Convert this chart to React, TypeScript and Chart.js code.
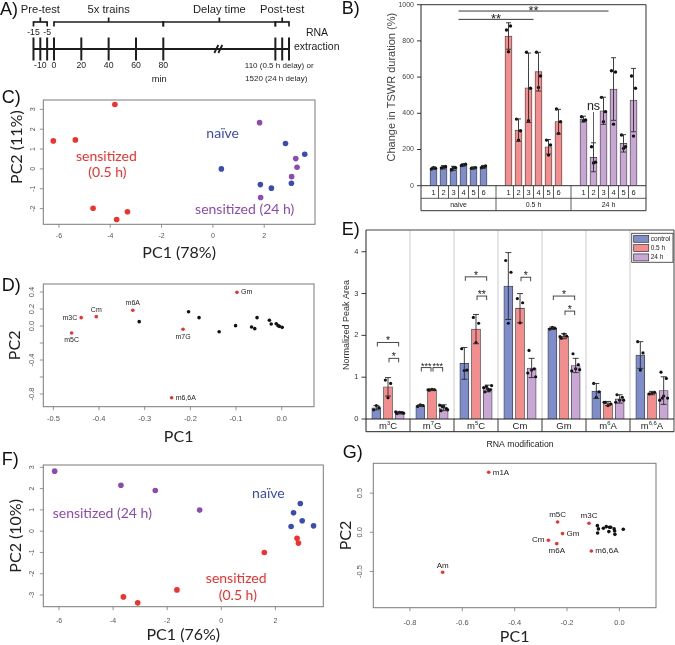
import React, { useEffect, useRef } from "react";
import { Chart, registerables } from "chart.js";

Chart.register(...registerables);

/* ======================= DATA ======================= */
// A) protocol timeline (minutes)
const PRE_TEST_TIMES = [-15, -10, -5];
const TRAIN_TIMES = [0, 20, 40, 60, 80];
const POST_TEST_TIMES = [110, 115, 120];
const LABELS_ABOVE = [-15, -5];
const LABELS_BELOW = [-10, 0, 20, 40, 60, 80];
const PHASE_NAMES = ["Pre-test", "5x trains", "Delay time", "Post-test"];
const PHASE_START = [-15, 0, 80, 110];
const PHASE_END = [-5, 80, 110, 120];
const POST_NOTE = ["110 (0.5 h delay) or", "1520 (24 h delay)"];
const TIME_UNIT = "min";
const END_NOTE = ["RNA", "extraction"];
const BREAK_AFTER = 80;
const BREAK_SHIFT = 52;

// B) change in TSWR duration (%)
const B_GROUPS = ["naive", "0.5 h", "24 h"];
const B_ANIMALS = ["1", "2", "3", "4", "5", "6"];
const B_NAIVE = [96, 102, 96, 115, 98, 104];
const B_HALF = [827, 307, 541, 630, 215, 354];
const B_DAY = [368, 157, 414, 534, 234, 473];
const B_NAIVE_SD = [6, 9, 11, 6, 4, 8];
const B_HALF_SD = [73, 62, 192, 107, 40, 68];
const B_DAY_SD = [16, 80, 75, 173, 48, 175];
const B_NAIVE_PTS = [[92, 96, 100], [98, 106, 102], [87, 100, 101], [112, 119, 114], [96, 100, 98], [99, 109, 104]];
const B_HALF_PTS = [[860, 882, 740], [368, 304, 252], [737, 538, 359], [737, 606, 543], [252, 225, 169], [424, 354, 289]];
const B_DAY_PTS = [[381, 363, 359], [215, 130, 126], [488, 409, 354], [635, 628, 340], [280, 215, 206], [606, 538, 274]];
const B_Y_TICKS = [0, 200, 400, 600, 800, 1000];
const B_Y_TITLE = "Change in TSWR duration (%)";
const B_SIG_FROM = [0, 0];
const B_SIG_TO = [1, 2];
const B_SIG_Y = [919, 965];
const B_SIG_TEXT = ["**", "**"];
const B_NS_TEXT = "ns";
const B_NS_GROUP = 2;
const B_NS_ANIMAL = 1;
const B_NS_Y = 435;

// C) PCA of samples (78% / 11%)
const C_HALF_PC1 = [-3.82, -6.22, -5.36, -4.67, -3.33, -3.75];
const C_HALF_PC2 = [3.24, 1.41, 1.46, -1.98, -2.16, -2.55];
const C_NAIVE_PC1 = [0.33, 2.83, 3.58, 1.85, 2.28, 3.06];
const C_NAIVE_PC2 = [0.0, 1.28, 0.74, -0.79, -0.97, -0.72];
const C_DAY_PC1 = [1.82, 3.23, 3.28, 3.07, 1.86];
const C_DAY_PC2 = [2.33, 0.52, 0.08, -0.39, -1.44];
const C_TAG_TEXT = ["naïve", "sensitized", "(0.5 h)", "sensitized (24 h)"];
const C_TAG_PC1 = [0.38, -4.15, -4.11, 1.24];
const C_TAG_PC2 = [1.76, 0.65, -0.2, -2.06];
const C_TAG_SET = [1, 0, 0, 2];
const C_X_TICKS = [-6, -4, -2, 0, 2];
const C_Y_TICKS = [-2, -1, 0, 1, 2, 3];

// D) PCA loadings
const D_MOD_NAMES = ["m3C", "Cm", "m6A", "Gm", "m5C", "m7G", "m6,6A"];
const D_MOD_PC1 = [-0.439, -0.406, -0.326, -0.098, -0.46, -0.216, -0.241];
const D_MOD_PC2 = [0.098, 0.11, 0.185, 0.396, -0.082, -0.039, -0.843];
const D_MOD_SIDE = ["left", "above", "above", "right", "below", "below", "right"];
const D_OTHER_PC1 = [-0.312, -0.204, -0.181, -0.137, -0.101, -0.066, -0.059, -0.054, -0.027, -0.023, -0.012, -0.008, -0.005, 0.001];
const D_OTHER_PC2 = [0.051, 0.168, 0.098, -0.067, 0.004, -0.012, -0.031, 0.098, 0.067, 0.024, 0.027, 0.004, -0.004, -0.016];
const D_X_TICKS = [-0.5, -0.4, -0.3, -0.2, -0.1, 0.0];
const D_Y_TICKS = [-0.8, -0.6, -0.4, -0.2, 0.0, 0.2, 0.4];
const D_Y_LABELLED = [-0.8, -0.4, 0.0, 0.2, 0.4];

// E) normalized peak area
const E_MOD_BASE = ["m", "m", "m", "Cm", "Gm", "m", "m"];
const E_MOD_SUP = ["3", "7", "5", "", "", "6", "6,6"];
const E_MOD_TAIL = ["C", "G", "C", "", "", "A", "A"];
const E_SERIES = ["control", "0.5 h", "24 h"];
const E_CONTROL = [0.27, 0.32, 1.33, 3.18, 2.17, 0.67, 1.53];
const E_HALF = [0.77, 0.7, 2.15, 2.65, 1.98, 0.37, 0.62];
const E_DAY = [0.15, 0.27, 0.73, 1.22, 1.28, 0.48, 0.68];
const E_CONTROL_SD = [0.05, 0.02, 0.38, 0.8, 0.03, 0.18, 0.32];
const E_HALF_SD = [0.22, 0.02, 0.35, 0.35, 0.06, 0.05, 0.04];
const E_DAY_SD = [0.03, 0.07, 0.08, 0.23, 0.17, 0.1, 0.33];
const E_CONTROL_PTS = [[0.22, 0.27, 0.32], [0.3, 0.32, 0.34], [1.68, 1.17, 1.16], [3.79, 3.51, 2.29], [2.15, 2.17, 2.19], [0.85, 0.65, 0.52], [1.85, 1.58, 1.17]];
const E_HALF_PTS = [[0.93, 0.85, 0.51], [0.69, 0.7, 0.71, 0.7], [2.43, 2.29, 1.83], [2.88, 2.78, 2.3], [1.93, 1.98, 2.03, 1.97], [0.4, 0.36, 0.32, 0.4], [0.6, 0.64, 0.62]];
const E_DAY_PTS = [[0.13, 0.15, 0.16, 0.17, 0.14], [0.2, 0.25, 0.3, 0.33, 0.22, 0.3], [0.65, 0.7, 0.72, 0.75, 0.8, 0.78, 0.68], [1.64, 1.2, 1.17, 1.1, 1.01], [1.56, 1.3, 1.2, 1.15, 1.18], [0.58, 0.52, 0.45, 0.4, 0.45], [1.12, 0.97, 0.55, 0.45, 0.5, 0.5]];
const E_Y_TICKS = [0, 1, 2, 3, 4];
const E_Y_MAX = 4.52;
const E_Y_TITLE = "Normalized Peak Area";
const E_X_TITLE = "RNA modification";
const E_SIG_GROUP = [0, 0, 1, 1, 2, 2, 3, 4, 4];
const E_SIG_FROM = [0, 1, 0, 1, 0, 1, 1, 0, 1];
const E_SIG_TO = [2, 2, 1, 2, 2, 2, 2, 2, 2];
const E_SIG_Y = [1.83, 1.45, 1.23, 1.23, 3.4, 2.94, 3.39, 2.94, 2.58];
const E_SIG_TEXT = ["*", "*", "***", "***", "*", "**", "*", "*", "*"];

// F) PCA of samples (76% / 10%)
const F_HALF_PC1 = [2.8, 2.85, 1.59, -1.64, -3.62, -3.09];
const F_HALF_PC2 = [-0.33, -0.56, -1.0, -2.76, -3.09, -3.37];
const F_NAIVE_PC1 = [2.92, 2.67, 2.99, 2.58, 3.41];
const F_NAIVE_PC2 = [1.3, 0.86, 0.49, 0.22, 0.25];
const F_DAY_PC1 = [-6.16, -3.71, -2.44, -0.8];
const F_DAY_PC2 = [2.82, 2.16, 1.91, 0.99];
const F_TAG_TEXT = ["naïve", "sensitized (24 h)", "sensitized", "(0.5 h)"];
const F_TAG_PC1 = [1.74, -4.4, 0.55, 0.61];
const F_TAG_PC2 = [1.75, 0.85, -2.22, -3.04];
const F_TAG_SET = [1, 2, 0, 0];
const F_X_TICKS = [-6, -4, -2, 0, 2];
const F_Y_TICKS = [-3, -2, -1, 0, 1, 2, 3];

// G) PCA loadings
const G_MOD_NAMES = ["m1A", "m5C", "m3C", "Gm", "Cm", "m6A", "m6,6A", "Am"];
const G_MOD_PC1 = [-0.499, -0.236, -0.116, -0.217, -0.271, -0.239, -0.107, -0.675];
const G_MOD_PC2 = [0.766, 0.132, 0.115, -0.017, -0.102, -0.145, -0.238, -0.511];
const G_MOD_SIDE = ["right", "above", "above", "right", "left", "below", "right", "above"];
const G_OTHER_PC1 = [-0.084, -0.08, -0.083, -0.061, -0.05, -0.038, -0.04, -0.033, -0.02, -0.017, -0.018, 0.015];
const G_OTHER_PC2 = [0.085, 0.043, -0.009, 0.051, 0.072, 0.064, 0.009, 0.064, 0.043, -0.026, 0.017, 0.038];
const G_X_TICKS = [-0.8, -0.6, -0.4, -0.2, 0.0];
const G_Y_TICKS = [-0.5, 0.0, 0.5];

/* ======================= STYLE ======================= */
const SANS = '"Liberation Sans", Arial, Helvetica, sans-serif';
const HUMAN = 'Lato, "Open Sans", sans-serif';
const RED = "#f0312e";
const BLUE = "#3a4cb2";
const PURPLE = "#8b4bb0";
const BAR_BLUE = "#7f8dca";
const BAR_RED = "#f48e8e";
const BAR_PURPLE = "#c9a7d4";
const INK = "#1d1d1d";

/* ======================= HELPERS ======================= */
function txt(ctx: any, s: string, x: number, y: number, size: number, color: string, o: any = {}) {
  ctx.save();
  ctx.font = `${o.weight || ""} ${size}px ${o.family || SANS}`.trim();
  ctx.fillStyle = color;
  ctx.textAlign = o.align || "center";
  ctx.textBaseline = o.baseline || "middle";
  ctx.translate(x, y);
  if (o.rot) ctx.rotate(o.rot);
  ctx.fillText(s, 0, 0);
  ctx.restore();
}
function seg(ctx: any, x1: number, y1: number, x2: number, y2: number, color: string, w: number) {
  ctx.save();
  ctx.strokeStyle = color;
  ctx.lineWidth = w;
  ctx.beginPath();
  ctx.moveTo(x1, y1);
  ctx.lineTo(x2, y2);
  ctx.stroke();
  ctx.restore();
}
const zip = (a: number[], b: number[]) => a.map((v, i) => ({ x: v, y: b[i] }));
const baseOptions = (padding: any) => ({
  responsive: false,
  animation: false as const,
  events: [] as any[],
  layout: { padding, autoPadding: false },
  plugins: { legend: { display: false }, tooltip: { enabled: false } },
});

// plain left value axis (for the bar panels)
function leftAxis(chart: any, ticks: number[], o: any) {
  const { ctx, chartArea: a } = chart;
  const sy = chart.scales.y;
  seg(ctx, a.left, a.top, a.left, a.bottom, "#222", 1);
  ticks.forEach((v) => {
    const p = sy.getPixelForValue(v);
    seg(ctx, a.left - o.len, p, a.left, p, "#222", 0.9);
    txt(ctx, String(v), a.left - o.len - o.gap, p, o.size, o.color, { align: "right" });
  });
}

// R-style box, ticks and titles
function rAxes(chart: any, o: any) {
  const { ctx, chartArea: a } = chart;
  const sx = chart.scales.x;
  const sy = chart.scales.y;
  ctx.save();
  ctx.strokeStyle = "#7a7a7a";
  ctx.lineWidth = 1;
  ctx.strokeRect(a.left, a.top, a.right - a.left, a.bottom - a.top);
  ctx.restore();
  o.xTicks.forEach((v: number) => {
    const p = sx.getPixelForValue(v);
    seg(ctx, p, a.bottom, p, a.bottom + 3.5, "#7a7a7a", 0.8);
    txt(ctx, o.fmt(v), p, a.bottom + o.xLab, o.tick, "#555");
  });
  o.yTicks.forEach((v: number) => {
    const p = sy.getPixelForValue(v);
    seg(ctx, a.left - 3.5, p, a.left, p, "#7a7a7a", 0.8);
    const show = !o.yLabelled || o.yLabelled.some((w: number) => Math.abs(w - v) < 1e-9);
    if (show) txt(ctx, o.fmt(v), a.left - o.yLab, p, o.tick, "#555", { rot: -Math.PI / 2 });
  });
  txt(ctx, o.xTitle, (a.left + a.right) / 2, a.bottom + o.xTitleGap, o.title, "#222", { family: HUMAN });
  txt(ctx, o.yTitle, a.left - o.yTitleGap, (a.top + a.bottom) / 2 + (o.yTitleShift || 0), o.title, "#222", {
    family: HUMAN,
    rot: -Math.PI / 2,
  });
}

function pointLabels(chart: any, dsIndex: number, names: string[], sides: string[], size: number) {
  const meta = chart.getDatasetMeta(dsIndex);
  const { ctx } = chart;
  meta.data.forEach((el: any, i: number) => {
    const side = sides[i];
    const { x, y } = el;
    if (side === "left") txt(ctx, names[i], x - 4, y, size, "#222", { align: "right" });
    else if (side === "right") txt(ctx, names[i], x + 4, y, size, "#222", { align: "left" });
    else if (side === "above") txt(ctx, names[i], x, y - 7, size, "#222");
    else txt(ctx, names[i], x, y + 7.5, size, "#222");
  });
}

const errorBarPlugin = {
  id: "errorBars",
  afterDatasetsDraw(chart: any) {
    const { ctx } = chart;
    const sy = chart.scales.y;
    chart.data.datasets.forEach((ds: any, i: number) => {
      if (!ds.errorBars) return;
      const meta = chart.getDatasetMeta(i);
      meta.data.forEach((el: any, j: number) => {
        const v = ds.data[j].y;
        const e = ds.errorBars[j];
        const t = sy.getPixelForValue(v + e);
        const b = sy.getPixelForValue(v - e);
        const cap = ds.capWidth || 2.5;
        seg(ctx, el.x, t, el.x, b, "#2a2a2a", 0.9);
        seg(ctx, el.x - cap, t, el.x + cap, t, "#2a2a2a", 0.9);
        seg(ctx, el.x - cap, b, el.x + cap, b, "#2a2a2a", 0.9);
      });
    });
  },
};

/* ======================= PANEL A ======================= */
const toAxis = (t: number) => (t > BREAK_AFTER ? t + BREAK_SHIFT : t);

function configA(): any {
  const allTimes = [...PRE_TEST_TIMES, ...TRAIN_TIMES, ...POST_TEST_TIMES];
  const first = Math.min(...allTimes);
  const last = Math.max(...allTimes);
  return {
    type: "scatter",
    data: {
      datasets: [
        {
          data: [{ x: toAxis(first), y: 0 }, { x: toAxis(last), y: 0 }],
          showLine: true,
          borderColor: INK,
          borderWidth: 1.8,
          pointRadius: 0,
        },
        {
          data: allTimes.map((t) => ({ x: toAxis(t), y: 0 })),
          pointStyle: "line",
          pointRotation: 90,
          pointRadius: 11.5,
          pointBorderWidth: 2,
          pointBorderColor: INK,
          pointBackgroundColor: INK,
        },
      ],
    },
    options: {
      ...baseOptions({ left: 0, top: 0, right: 20, bottom: 0 }),
      scales: {
        x: { type: "linear", display: false, min: -39.5, max: 209.3 },
        y: { type: "linear", display: false, min: -41, max: 49 },
      },
    },
    plugins: [
      {
        id: "timeline",
        afterDatasetsDraw(chart: any) {
          const { ctx } = chart;
          const sx = chart.scales.x;
          const y0 = chart.scales.y.getPixelForValue(0);
          const X = (t: number) => sx.getPixelForValue(toAxis(t));
          // axis break
          const bx = (X(BREAK_AFTER) + X(POST_TEST_TIMES[0])) / 2;
          seg(ctx, bx - 5, y0 + 4, bx - 1, y0 - 4, INK, 1.8);
          seg(ctx, bx - 1, y0 + 4, bx + 3, y0 - 4, INK, 1.8);
          // braces
          const yb = y0 - 27;
          PHASE_NAMES.forEach((name, i) => {
            const x1 = X(PHASE_START[i]);
            const x2 = X(PHASE_END[i]);
            const xm = (x1 + x2) / 2;
            seg(ctx, x1, yb, x2, yb, INK, 1.7);
            seg(ctx, x1, yb - 0.8, x1, yb + 4.5, INK, 1.7);
            seg(ctx, x2, yb - 0.8, x2, yb + 4.5, INK, 1.7);
            seg(ctx, xm, yb, xm, yb - 4.5, INK, 1.7);
            txt(ctx, name, xm, 10, 11.2, INK);
          });
          LABELS_ABOVE.forEach((t) => txt(ctx, String(t), X(t), y0 - 16, 8.7, INK));
          LABELS_BELOW.forEach((t) => txt(ctx, String(t), X(t), y0 + 17, 8.7, INK));
          txt(ctx, TIME_UNIT, X(TRAIN_TIMES[TRAIN_TIMES.length - 1]) - 4, y0 + 30, 9.3, INK);
          const px = (X(POST_TEST_TIMES[0]) + X(POST_TEST_TIMES[POST_TEST_TIMES.length - 1])) / 2;
          txt(ctx, POST_NOTE[0], px - 3, y0 + 17, 8, INK);
          txt(ctx, POST_NOTE[1], px - 6, y0 + 30, 8, INK);
          const ex = X(POST_TEST_TIMES[POST_TEST_TIMES.length - 1]);
          txt(ctx, END_NOTE[0], ex + 28, y0 - 16, 10.5, INK);
          txt(ctx, END_NOTE[1], ex + 5, y0 - 2, 10.5, INK, { align: "left" });
        },
      },
    ],
  };
}

/* ======================= PANEL B ======================= */
const B_GROUP_SPAN = 7.5;
const B_LEAD = 1.25;
const B_JITTER = [-0.2, 0.2, 0.0];
const bX = (g: number, i: number) => g * B_GROUP_SPAN + B_LEAD + i;

function configB(): any {
  const series = [
    { vals: B_NAIVE, sd: B_NAIVE_SD, pts: B_NAIVE_PTS, color: BAR_BLUE },
    { vals: B_HALF, sd: B_HALF_SD, pts: B_HALF_PTS, color: BAR_RED },
    { vals: B_DAY, sd: B_DAY_SD, pts: B_DAY_PTS, color: BAR_PURPLE },
  ];
  const datasets: any[] = [];
  series.forEach((s, g) => {
    datasets.push({
      type: "scatter",
      order: 0,
      data: s.pts.flatMap((arr, i) => arr.map((v, k) => ({ x: bX(g, i) + B_JITTER[k], y: v }))),
      pointRadius: 1.7,
      pointBackgroundColor: "#111",
      pointBorderWidth: 0,
      clip: false,
    });
  });
  series.forEach((s, g) => {
    datasets.push({
      type: "bar",
      label: B_GROUPS[g],
      order: 2,
      data: s.vals.map((v, i) => ({ x: bX(g, i), y: v })),
      backgroundColor: s.color,
      borderColor: "#3c3c3c",
      borderWidth: 0.8,
      grouped: false,
      maxBarThickness: 7,
      barPercentage: 1,
      categoryPercentage: 1,
      errorBars: s.sd,
      capWidth: 2.5,
    });
  });
  return {
    type: "bar",
    data: { datasets },
    options: {
      ...baseOptions({ left: 81, top: 4.7, right: 29, bottom: 29.3 }),
      scales: {
        x: { type: "linear", display: false, offset: false, min: 0, max: B_GROUP_SPAN * B_GROUPS.length },
        y: { type: "linear", display: false, min: B_Y_TICKS[0], max: B_Y_TICKS[B_Y_TICKS.length - 1] },
      },
    },
    plugins: [
      errorBarPlugin,
      {
        id: "bDecor",
        afterDraw(chart: any) {
          const { ctx, chartArea: a } = chart;
          const sx = chart.scales.x;
          const sy = chart.scales.y;
          const row1 = a.bottom + 12.6;
          const row2 = a.bottom + 25;
          leftAxis(chart, B_Y_TICKS, { len: 4, gap: 3, size: 7, color: "#444" });
          // box + table frame
          seg(ctx, a.left, a.top, a.right, a.top, "#333", 1);
          seg(ctx, a.right, a.top, a.right, row2, "#333", 1);
          seg(ctx, a.left, a.bottom, a.left, row2, "#333", 1);
          seg(ctx, a.left, a.bottom, a.right, a.bottom, "#333", 1);
          seg(ctx, a.left, row1, a.right, row1, "#333", 0.8);
          seg(ctx, a.left, row2, a.right, row2, "#333", 1);
          B_GROUPS.forEach((name, g) => {
            const gx0 = sx.getPixelForValue(g * B_GROUP_SPAN);
            const gx1 = sx.getPixelForValue((g + 1) * B_GROUP_SPAN);
            if (g > 0) seg(ctx, gx0, a.bottom, gx0, row2, "#333", 0.8);
            B_ANIMALS.forEach((lab, i) => {
              if (i < B_ANIMALS.length - 1) {
                const dx = sx.getPixelForValue(bX(g, i) + 0.5);
                seg(ctx, dx, a.bottom, dx, row1, "#333", 0.8);
              }
              txt(ctx, lab, sx.getPixelForValue(bX(g, i)), (a.bottom + row1) / 2 + 0.5, 7.5, "#222");
            });
            txt(ctx, name, (gx0 + gx1) / 2, (row1 + row2) / 2 + 0.5, 7, "#222");
          });
          // significance
          B_SIG_FROM.forEach((f, k) => {
            const x1 = sx.getPixelForValue(f * B_GROUP_SPAN + B_GROUP_SPAN / 2);
            const x2 = sx.getPixelForValue(B_SIG_TO[k] * B_GROUP_SPAN + B_GROUP_SPAN / 2);
            const yy = sy.getPixelForValue(B_SIG_Y[k]);
            seg(ctx, x1, yy, x2, yy, "#222", 0.9);
            txt(ctx, B_SIG_TEXT[k], (x1 + x2) / 2, yy + 3.5, 13, "#222", { baseline: "alphabetic" });
          });
          const nx = sx.getPixelForValue(bX(B_NS_GROUP, B_NS_ANIMAL));
          const ny = sy.getPixelForValue(B_NS_Y);
          txt(ctx, B_NS_TEXT, nx, ny, 12.5, "#222");
          const bars = [B_NAIVE, B_HALF, B_DAY][B_NS_GROUP];
          const sds = [B_NAIVE_SD, B_HALF_SD, B_DAY_SD][B_NS_GROUP];
          const topV = bars[B_NS_ANIMAL] + sds[B_NS_ANIMAL];
          seg(ctx, nx, ny + 5, nx, sy.getPixelForValue(topV), "#333", 0.8);
          // y title
          txt(ctx, B_Y_TITLE, a.left - 29, (a.top + a.bottom) / 2 - 8, 11, "#444", { rot: -Math.PI / 2 });
        },
      },
    ],
  };
}

/* ======================= PCA sample panels (C, F) ======================= */
function configPCA(sets: any[], range: any, padding: any, axes: any, tags: any): any {
  return {
    type: "scatter",
    data: {
      datasets: sets.map((s) => ({
        label: s.label,
        data: zip(s.pc1, s.pc2),
        pointRadius: 2.8,
        pointBackgroundColor: s.color,
        pointBorderWidth: 0,
      })),
    },
    options: {
      ...baseOptions(padding),
      scales: {
        x: { type: "linear", display: false, min: range.x0, max: range.x1 },
        y: { type: "linear", display: false, min: range.y0, max: range.y1 },
      },
    },
    plugins: [
      {
        id: "rstyle",
        afterDraw(chart: any) {
          rAxes(chart, axes);
          const sx = chart.scales.x;
          const sy = chart.scales.y;
          tags.text.forEach((t: string, i: number) => {
            txt(chart.ctx, t, sx.getPixelForValue(tags.pc1[i]), sy.getPixelForValue(tags.pc2[i]), 14, sets[tags.set[i]].color, {
              family: HUMAN,
            });
          });
        },
      },
    ],
  };
}

/* ======================= loading panels (D, G) ======================= */
function configLoad(mod: any, other: any, range: any, padding: any, axes: any, labelSize: number): any {
  return {
    type: "scatter",
    data: {
      datasets: [
        { label: "modified", data: zip(mod.pc1, mod.pc2), pointRadius: 1.8, pointBackgroundColor: RED, pointBorderWidth: 0 },
        { label: "other", data: zip(other.pc1, other.pc2), pointRadius: 1.8, pointBackgroundColor: "#111", pointBorderWidth: 0 },
      ],
    },
    options: {
      ...baseOptions(padding),
      scales: {
        x: { type: "linear", display: false, min: range.x0, max: range.x1 },
        y: { type: "linear", display: false, min: range.y0, max: range.y1 },
      },
    },
    plugins: [
      {
        id: "rstyleLoad",
        afterDraw(chart: any) {
          rAxes(chart, axes);
          pointLabels(chart, 0, mod.names, mod.sides, labelSize);
        },
      },
    ],
  };
}

/* ======================= PANEL E ======================= */
const E_OFFSET = [-0.265, 0, 0.265];
const E_JITTER = [-0.06, 0.06, 0.0, -0.09, 0.09, -0.03, 0.03];
const eX = (g: number, s: number) => g + E_OFFSET[s];

function drawMod(ctx: any, base: string, sup: string, tail: string, cx: number, cy: number, size: number) {
  const f1 = `${size}px ${SANS}`;
  const f2 = `${(size * 0.62).toFixed(2)}px ${SANS}`;
  ctx.save();
  ctx.fillStyle = "#222";
  ctx.textAlign = "left";
  ctx.textBaseline = "alphabetic";
  ctx.font = f1;
  const w1 = ctx.measureText(base).width;
  const w3 = ctx.measureText(tail).width;
  ctx.font = f2;
  const w2 = ctx.measureText(sup).width;
  let x = cx - (w1 + w2 + w3) / 2;
  const by = cy + size * 0.36;
  ctx.font = f1;
  ctx.fillText(base, x, by);
  x += w1;
  ctx.font = f2;
  ctx.fillText(sup, x, by - size * 0.38);
  x += w2;
  ctx.font = f1;
  ctx.fillText(tail, x, by);
  ctx.restore();
}

function configE(): any {
  const series = [
    { vals: E_CONTROL, sd: E_CONTROL_SD, pts: E_CONTROL_PTS, color: BAR_BLUE },
    { vals: E_HALF, sd: E_HALF_SD, pts: E_HALF_PTS, color: BAR_RED },
    { vals: E_DAY, sd: E_DAY_SD, pts: E_DAY_PTS, color: BAR_PURPLE },
  ];
  const datasets: any[] = [];
  series.forEach((s, si) => {
    datasets.push({
      type: "scatter",
      order: 0,
      data: s.pts.flatMap((arr, g) => arr.map((v, k) => ({ x: eX(g, si) + E_JITTER[k], y: v }))),
      pointRadius: 1.6,
      pointBackgroundColor: "#111",
      pointBorderWidth: 0,
      clip: false,
    });
  });
  series.forEach((s, si) => {
    datasets.push({
      type: "bar",
      label: E_SERIES[si],
      order: 2,
      data: s.vals.map((v, g) => ({ x: eX(g, si), y: v })),
      backgroundColor: s.color,
      borderColor: "#3c3c3c",
      borderWidth: 0.8,
      grouped: false,
      maxBarThickness: 9,
      barPercentage: 1,
      categoryPercentage: 1,
      errorBars: s.sd,
      capWidth: 3,
    });
  });
  const nGroups = E_MOD_BASE.length;
  return {
    type: "bar",
    data: { datasets },
    options: {
      ...baseOptions({ left: 26, top: 15, right: 1, bottom: 31 }),
      scales: {
        x: { type: "linear", display: false, offset: false, min: -0.5, max: nGroups - 0.5 },
        y: { type: "linear", display: false, min: 0, max: E_Y_MAX },
      },
    },
    plugins: [
      {
        id: "eGrid",
        beforeDatasetsDraw(chart: any) {
          const { ctx, chartArea: a } = chart;
          const sx = chart.scales.x;
          for (let g = 1; g < nGroups; g++) {
            const px = sx.getPixelForValue(g - 0.5);
            seg(ctx, px, a.top, px, a.bottom, "#c4c4c4", 0.9);
          }
        },
      },
      errorBarPlugin,
      {
        id: "eDecor",
        afterDraw(chart: any) {
          const { ctx, chartArea: a } = chart;
          const sx = chart.scales.x;
          const sy = chart.scales.y;
          const rowB = a.bottom + 12.7;
          leftAxis(chart, E_Y_TICKS, { len: 4.5, gap: 3, size: 7.5, color: "#333" });
          seg(ctx, a.left, a.top, a.right, a.top, "#444", 1);
          seg(ctx, a.right, a.top, a.right, rowB, "#444", 1);
          seg(ctx, a.left, a.bottom, a.right, a.bottom, "#222", 1);
          seg(ctx, a.left, rowB, a.right, rowB, "#222", 1);
          seg(ctx, a.left, a.bottom, a.left, rowB, "#222", 1);
          for (let g = 0; g < nGroups; g++) {
            if (g > 0) {
              const px = sx.getPixelForValue(g - 0.5);
              seg(ctx, px, a.bottom, px, rowB, "#222", 0.9);
            }
            drawMod(ctx, E_MOD_BASE[g], E_MOD_SUP[g], E_MOD_TAIL[g], sx.getPixelForValue(g), (a.bottom + rowB) / 2, 9.5);
          }
          txt(ctx, E_X_TITLE, (a.left + a.right) / 2, a.bottom + 26, 8.7, "#222");
          txt(ctx, E_Y_TITLE, 7, a.top + 95, 9, "#333", { rot: -Math.PI / 2 });
          // significance brackets
          E_SIG_GROUP.forEach((g, k) => {
            const x1 = sx.getPixelForValue(eX(g, E_SIG_FROM[k])) + 1;
            const x2 = sx.getPixelForValue(eX(g, E_SIG_TO[k])) - 1;
            const yy = sy.getPixelForValue(E_SIG_Y[k]);
            seg(ctx, x1, yy, x2, yy, "#333", 0.9);
            seg(ctx, x1, yy - 0.4, x1, yy + 4, "#333", 0.9);
            seg(ctx, x2, yy - 0.4, x2, yy + 4, "#333", 0.9);
            const s = E_SIG_TEXT[k];
            txt(ctx, s, (x1 + x2) / 2, yy + 1.8, s.length > 2 ? 9 : 10.5, "#222", { baseline: "alphabetic" });
          });
          // legend
          const lx = a.right - 42.3;
          const ly = a.top + 3.3;
          ctx.save();
          ctx.fillStyle = "#fff";
          ctx.fillRect(lx, ly, 41.3, 29);
          ctx.strokeStyle = "#444";
          ctx.lineWidth = 0.9;
          ctx.strokeRect(lx, ly, 41.3, 29);
          ctx.restore();
          [0, 1, 2].forEach((si) => {
            const ds = chart.data.datasets[3 + si];
            const yy = ly + 2 + si * 9.3;
            ctx.save();
            ctx.fillStyle = ds.backgroundColor;
            ctx.fillRect(lx + 2, yy, 15, 7);
            ctx.strokeStyle = "#333";
            ctx.lineWidth = 0.7;
            ctx.strokeRect(lx + 2, yy, 15, 7);
            ctx.restore();
            txt(ctx, ds.label, lx + 19, yy + 3.7, 6.5, "#222", { align: "left" });
          });
        },
      },
    ],
  };
}

/* ======================= LAYOUT ======================= */
const CANVASES = [
  { key: "A", x: 0, y: 0, w: 360, h: 90 },
  { key: "B", x: 340, y: 0, w: 335, h: 215 },
  { key: "C", x: 0, y: 88, w: 340, h: 180 },
  { key: "D", x: 0, y: 270, w: 340, h: 180 },
  { key: "E", x: 340, y: 215, w: 335, h: 235 },
  { key: "F", x: 0, y: 455, w: 340, h: 190 },
  { key: "G", x: 340, y: 450, w: 335, h: 195 },
];
const PANEL_LETTERS = [
  { t: "A)", x: 0, y: -0.5 },
  { t: "B)", x: 341.7, y: -0.6 },
  { t: "C)", x: 1.7, y: 88 },
  { t: "D)", x: 1.7, y: 276.4 },
  { t: "E)", x: 341.7, y: 220.4 },
  { t: "F)", x: 1.7, y: 449.7 },
  { t: "G)", x: 342.7, y: 443 },
];

const intFmt = (v: number) => String(v);
const decFmt = (v: number) => v.toFixed(1);

export default function App() {
  const refs = useRef<Record<string, HTMLCanvasElement | null>>({});

  useEffect(() => {
    const r = refs.current;
    const charts: Chart[] = [];
    const make = (k: string, cfg: any) => {
      const c = r[k];
      if (c) charts.push(new Chart(c, cfg));
    };
    make("A", configA());
    make("B", configB());
    make(
      "C",
      configPCA(
        [
          { label: "sensitized (0.5 h)", pc1: C_HALF_PC1, pc2: C_HALF_PC2, color: RED },
          { label: "naïve", pc1: C_NAIVE_PC1, pc2: C_NAIVE_PC2, color: BLUE },
          { label: "sensitized (24 h)", pc1: C_DAY_PC1, pc2: C_DAY_PC2, color: PURPLE },
        ],
        { x0: -6.61, x1: 3.98, y0: -2.79, y1: 3.47 },
        { left: 43.3, top: 12, right: 25, bottom: 43.7 },
        {
          xTicks: C_X_TICKS, yTicks: C_Y_TICKS, fmt: intFmt, tick: 7, xLab: 12, yLab: 10,
          xTitle: "PC1 (78%)", yTitle: "PC2 (11%)", title: 16, xTitleGap: 29, yTitleGap: 26, yTitleShift: -15,
        },
        { text: C_TAG_TEXT, pc1: C_TAG_PC1, pc2: C_TAG_PC2, set: C_TAG_SET }
      )
    );
    make(
      "D",
      configLoad(
        { names: D_MOD_NAMES, pc1: D_MOD_PC1, pc2: D_MOD_PC2, sides: D_MOD_SIDE },
        { pc1: D_OTHER_PC1, pc2: D_OTHER_PC2 },
        { x0: -0.522, x1: 0.0707, y0: -0.949, y1: 0.494 },
        { left: 43.3, top: 14, right: 26, bottom: 43.3 },
        {
          xTicks: D_X_TICKS, yTicks: D_Y_TICKS, yLabelled: D_Y_LABELLED, fmt: decFmt, tick: 7.5, xLab: 12.6, yLab: 11.6,
          xTitle: "PC1", yTitle: "PC2", title: 16, xTitleGap: 30, yTitleGap: 28,
        },
        7
      )
    );
    make("E", configE());
    make(
      "F",
      configPCA(
        [
          { label: "sensitized (0.5 h)", pc1: F_HALF_PC1, pc2: F_HALF_PC2, color: RED },
          { label: "naïve", pc1: F_NAIVE_PC1, pc2: F_NAIVE_PC2, color: BLUE },
          { label: "sensitized (24 h)", pc1: F_DAY_PC1, pc2: F_DAY_PC2, color: PURPLE },
        ],
        { x0: -6.58, x1: 3.77, y0: -3.55, y1: 3.11 },
        { left: 43.3, top: 10, right: 16.7, bottom: 38.3 },
        {
          xTicks: F_X_TICKS, yTicks: F_Y_TICKS, fmt: intFmt, tick: 7, xLab: 14, yLab: 11.6,
          xTitle: "PC1 (76%)", yTitle: "PC2 (10%)", title: 16, xTitleGap: 28, yTitleGap: 27,
        },
        { text: F_TAG_TEXT, pc1: F_TAG_PC1, pc2: F_TAG_PC2, set: F_TAG_SET }
      )
    );
    make(
      "G",
      configLoad(
        { names: G_MOD_NAMES, pc1: G_MOD_PC1, pc2: G_MOD_PC2, sides: G_MOD_SIDE },
        { pc1: G_OTHER_PC1, pc2: G_OTHER_PC2 },
        { x0: -0.94, x1: 0.14, y0: -0.963, y1: 0.881 },
        { left: 33.3, top: 13.3, right: 19, bottom: 37.3 },
        {
          xTicks: G_X_TICKS, yTicks: G_Y_TICKS, fmt: decFmt, tick: 7.5, xLab: 15, yLab: 13,
          xTitle: "PC1", yTitle: "PC2", title: 16, xTitleGap: 29, yTitleGap: 27,
        },
        8
      )
    );
    return () => charts.forEach((c) => c.destroy());
  }, []);

  return (
    <div style={{ position: "absolute", left: 0, top: 0, width: 675, height: 645, background: "#fff", overflow: "hidden" }}>
      {CANVASES.map((c) => (
        <canvas
          key={c.key}
          ref={(el) => {
            refs.current[c.key] = el;
          }}
          width={c.w}
          height={c.h}
          style={{ position: "absolute", left: c.x, top: c.y, width: c.w, height: c.h }}
        />
      ))}
      {PANEL_LETTERS.map((p) => (
        <div
          key={p.t}
          style={{
            position: "absolute",
            left: p.x,
            top: p.y,
            fontFamily: SANS,
            fontSize: 18,
            lineHeight: "18px",
            color: "#111",
            whiteSpace: "nowrap",
          }}
        >
          {p.t}
        </div>
      ))}
    </div>
  );
}
